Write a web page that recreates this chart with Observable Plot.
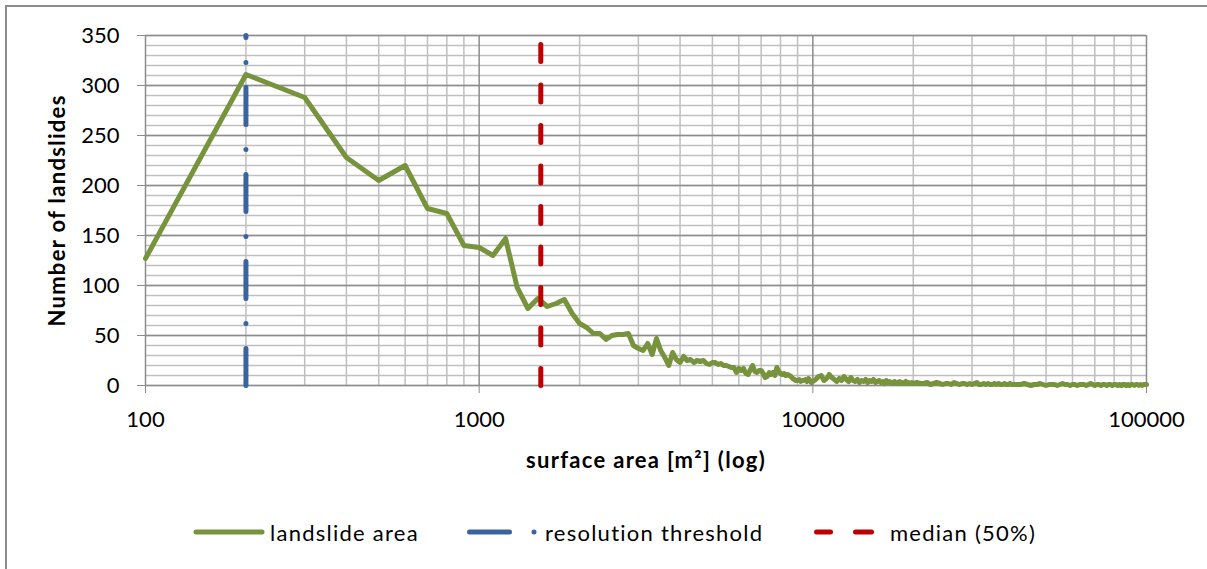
<!DOCTYPE html>
<html>
<head>
<meta charset="utf-8">
<script src="https://cdn.jsdelivr.net/npm/d3@7"></script>
<script src="https://cdn.jsdelivr.net/npm/@observablehq/plot@0.6"></script>
<style>
  html, body { margin: 0; padding: 0; background: #fff; }
  #wrap { position: relative; width: 1207px; height: 569px; overflow: hidden; font-family: Lato, sans-serif; }
  #border { position: absolute; left: 5px; top: 5px; right: -10px; bottom: -10px; border-left: 2px solid #8c8c8c; border-top: 2px solid #8c8c8c; pointer-events: none; }
  #chart { position: absolute; left: 0; top: 0; }
  .leg { position: absolute; top: 516px; height: 32px; display: flex; align-items: center; font-size: 22px; letter-spacing: 1.25px; color: #000; white-space: nowrap; }
  .leg svg { display: block; }
</style>
</head>
<body>
<div id="wrap">
  <div id="chart"></div>
  <div id="legend"></div>
  <div id="border"></div>
</div>
<script>
// ---- data ----
// landslide counts per area bin (m²)
// bins 100..10000, step 100
const countsA = [127, 311, 288, 228, 205, 220, 177, 172, 140, 138,
  130, 147, 98, 77, 87, 79, 82, 86, 72, 62,
  58, 52, 52, 46, 50, 51, 51, 52, 40, 37,
  35, 42, 31, 47, 35, 28, 20, 33, 26, 23,
  29, 25, 26, 23, 25, 24, 25, 22, 21, 23,
  23, 21, 22, 20, 20, 19, 18, 18, 13, 17,
  15, 17, 12, 11, 16, 20, 14, 13, 15, 15,
  12, 8, 9, 13, 11, 13, 10, 18, 14, 12,
  11, 12, 10, 11, 10, 9, 7, 6, 5, 5,
  6, 4, 5, 5, 6, 4, 7, 5, 3, 4];
// bins 10200..20000, step 200
const countsB = [6, 9, 10, 5, 7, 11, 8, 6, 4, 7,
  5, 9, 6, 4, 8, 5, 4, 6, 3, 5,
  4, 6, 3, 5, 4, 6, 3, 4, 5, 3,
  4, 2, 5, 3, 4, 2, 3, 4, 2, 3,
  4, 2, 3, 2, 4, 2, 3, 2, 3, 2];
// bins 20500..40000, step 500
const countsC = [3, 2, 2, 3, 1, 2, 3, 2, 1, 2,
  2, 1, 3, 2, 1, 2, 2, 1, 2, 1,
  2, 3, 1, 1, 2, 1, 2, 1, 1, 2,
  1, 2, 1, 1, 2, 1, 1, 2, 1, 1];
// bins 41000..100000, step 1000
const countsD = [1, 1, 2, 1, 0, 1, 1, 2, 1, 0,
  1, 1, 1, 0, 1, 2, 1, 1, 0, 1,
  1, 0, 1, 1, 1, 0, 1, 2, 1, 0,
  1, 1, 0, 1, 1, 0, 1, 1, 0, 1,
  1, 0, 1, 0, 1, 1, 0, 1, 0, 1,
  1, 0, 1, 1, 0, 1, 0, 1, 1, 1];
const binSegments = [
  {start: 100, step: 100, counts: countsA},
  {start: 10200, step: 200, counts: countsB},
  {start: 20500, step: 500, counts: countsC},
  {start: 41000, step: 1000, counts: countsD}
];
const resolutionThreshold = 200;
const medianArea = 1530;
const yRange = [0, 350];
const xTicks = [100, 1000, 10000, 100000];
const xMinorTicks = [200,300,400,500,600,700,800,900,2000,3000,4000,5000,6000,7000,8000,9000,20000,30000,40000,50000,60000,70000,80000,90000];
const yTicks = [0, 50, 100, 150, 200, 250, 300, 350];
const yMinorTicks = d3.range(0, 351, 10);
const seriesNames = ["landslide area", "resolution threshold", "median (50%)"];
const xLabel = "surface area [m²] (log)";
const yLabel = "Number of landslides";

const colors = {area: "#77933c", res: "#3a64a0", median: "#c00000"};

const areaData = binSegments.flatMap(s => s.counts.map((c, i) => ({area: s.start + i * s.step, count: c})));
const resData = yRange.map(y => ({area: resolutionThreshold, count: y}));
const medData = yRange.map(y => ({area: medianArea, count: y}));

const chart = Plot.plot({
  width: 1207,
  height: 480,
  marginLeft: 145,
  marginRight: 61,
  marginTop: 35,
  marginBottom: 95,
  style: {fontFamily: "Lato, sans-serif", fontSize: "22px", color: "#000", background: "transparent"},
  x: {type: "log", domain: [100, 100000]},
  y: {domain: yRange},
  marks: [
    Plot.ruleY(yMinorTicks, {stroke: "#bfbfbf", strokeWidth: 1.5}),
    Plot.ruleX(xMinorTicks, {stroke: "#bfbfbf", strokeWidth: 1.5}),
    Plot.ruleY(yTicks, {stroke: "#8c8c8c", strokeWidth: 1.5}),
    Plot.ruleX(xTicks, {stroke: "#8c8c8c", strokeWidth: 1.5}),
    Plot.axisX({ticks: xTicks, tickSize: 8, tickPadding: 18, stroke: "#8c8c8c", fill: "#000", fontSize: 22, tickFormat: d => String(d), label: null}),
    Plot.axisY({ticks: yTicks, tickSize: 8, tickPadding: 18, stroke: "#8c8c8c", fill: "#000", fontSize: 22, label: null}),
    Plot.line(areaData, {x: "area", y: "count", stroke: colors.area, strokeWidth: 5, strokeLinejoin: "round", strokeLinecap: "round"}),
    Plot.line(resData, {x: "area", y: "count", stroke: colors.res, strokeWidth: 5, strokeLinecap: "round", strokeDasharray: "37,25,0,25"}),
    Plot.line(medData, {x: "area", y: "count", stroke: colors.median, strokeWidth: 5, strokeLinecap: "round", strokeDasharray: "17,23.5"}),
    Plot.text([xLabel], {frameAnchor: "bottom", dy: 82, textAnchor: "middle", fontWeight: "bold", fontSize: 22, fill: "#000", className: "title"}),
    Plot.text([yLabel], {frameAnchor: "left", dx: -88, textAnchor: "middle", rotate: -90, fontWeight: "bold", fontSize: 22, fill: "#000", className: "title"})
  ]
});
d3.select(chart).selectAll(".title text").attr("letter-spacing", "1.3px");
document.getElementById("chart").appendChild(chart);

// ---- legend ----
const legend = document.getElementById("legend");
function addItem(left, swatchW, drawSwatch, label, gap) {
  const div = document.createElement("div");
  div.className = "leg";
  div.style.left = left + "px";
  const svg = d3.create("svg").attr("width", swatchW).attr("height", 32);
  drawSwatch(svg);
  div.appendChild(svg.node());
  const span = document.createElement("span");
  span.textContent = label;
  span.style.marginLeft = gap + "px";
  div.appendChild(span);
  legend.appendChild(div);
}
addItem(191, 76, svg => svg.append("line").attr("x1", 5).attr("x2", 71).attr("y1", 16).attr("y2", 16)
  .attr("stroke", colors.area).attr("stroke-width", 5).attr("stroke-linecap", "round"), seriesNames[0], 3);
addItem(464, 76, svg => {
  svg.append("line").attr("x1", 5.5).attr("x2", 45.5).attr("y1", 16).attr("y2", 16)
    .attr("stroke", colors.res).attr("stroke-width", 5).attr("stroke-linecap", "round");
  svg.append("circle").attr("cx", 70).attr("cy", 16).attr("r", 2.5).attr("fill", colors.res);
}, seriesNames[1], 5);
addItem(811, 66, svg => {
  svg.append("line").attr("x1", 5.5).attr("x2", 19.5).attr("y1", 16).attr("y2", 16)
    .attr("stroke", colors.median).attr("stroke-width", 5).attr("stroke-linecap", "round");
  svg.append("line").attr("x1", 44.5).attr("x2", 60.5).attr("y1", 16).attr("y2", 16)
    .attr("stroke", colors.median).attr("stroke-width", 5).attr("stroke-linecap", "round");
}, seriesNames[2], 13);
</script>
</body>
</html>
